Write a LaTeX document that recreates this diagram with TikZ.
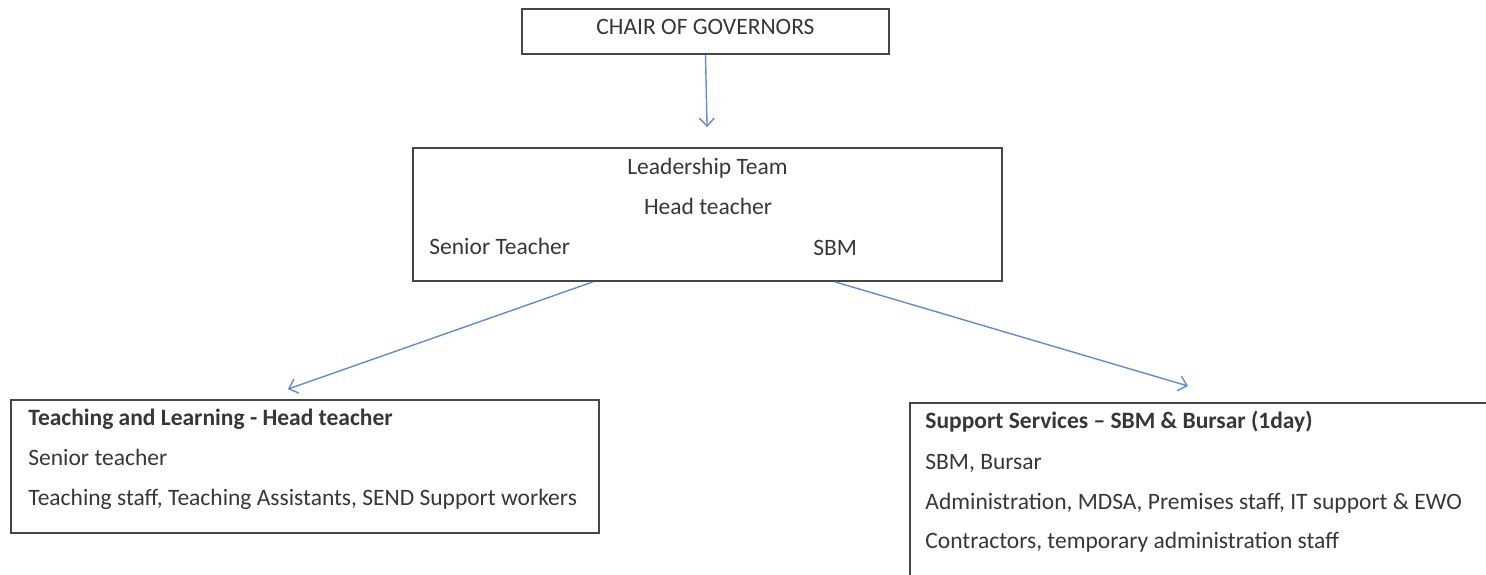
\documentclass[tikz,border=0pt]{standalone}
\usepackage{fontspec}
\setmainfont{Carlito}
\usetikzlibrary{arrows.meta,calc}
\definecolor{arrowblue}{RGB}{100,140,200}
\definecolor{boxline}{RGB}{70,70,70}
\definecolor{txt}{RGB}{55,55,55}
\begin{document}
\begin{tikzpicture}[x=0.5pt,y=-0.5pt,
  orgbox/.style={draw=boxline,line width=0.9pt,rectangle,inner sep=0pt},
  txtline/.style={font=\fontsize{11.75}{14}\selectfont,text=txt,inner sep=0pt},
  boldline/.style={txtline,font=\fontsize{11.75}{14}\selectfont\bfseries},
  link/.style={draw=arrowblue,line width=0.7pt,-{Straight Barb[length=4pt,width=7.5pt]}}]
\useasboundingbox (0,0) rectangle (1486,574);
\clip (0,0) rectangle (1486,574);
% boxes
\node[orgbox,minimum width=183.5pt,minimum height=22.5pt] (chair) at (705.5,31.5) {};
\node[orgbox,minimum width=294.5pt,minimum height=66.5pt] (lead) at (707.5,214.5) {};
\node[orgbox,minimum width=294pt,minimum height=66.5pt] (tl) at (305,466.5) {};
\node[orgbox,minimum width=305pt,minimum height=91pt] (ss) at (1215,494) {};
% texts
\node[txtline,anchor=base] (chairtxt) at (705.5,34.5) {CHAIR OF GOVERNORS};
\node[txtline,anchor=base] (leadt) at (707.5,174) {Leadership Team};
\node[txtline,anchor=base] (headt) at (708,214) {Head teacher};
\node[txtline,anchor=base west] (srt) at (429,254) {Senior Teacher};
\node[txtline,anchor=base west] (sbmt) at (813,255) {SBM};
\node[boldline,anchor=base west] (tl1) at (28,425) {Teaching and Learning - Head teacher};
\node[txtline,anchor=base west] (tl2) at (28,465) {Senior teacher};
\node[txtline,anchor=base west] (tl3) at (28,505) {Teaching staff, Teaching Assistants, SEND Support workers};
\node[boldline,anchor=base west] (ss1) at (925,428) {Support Services – SBM \& Bursar (1day)};
\node[txtline,anchor=base west] (ss2) at (925,469) {SBM, Bursar};
\node[txtline,anchor=base west] (ss3) at (925,509) {Administration, MDSA, Premises staff, IT support \& EWO};
\node[txtline,anchor=base west] (ss4) at (925,548) {Contractors, temporary administration staff};
% connectors
\coordinate (ls) at ($(lead.south west)!0.306!(lead.south east)$);
\coordinate (rs) at ($(lead.south west)!0.716!(lead.south east)$);
\coordinate (le) at ($(tl.north west)!0.471!(tl.north east)+(0,-10)$);
\coordinate (re) at (1188,386);
\draw[link,shorten >=10pt] (chair.south) -- (lead.north);
\draw[link] (ls) -- (le);
\draw[link] (rs) -- (re);
\end{tikzpicture}
\end{document}
